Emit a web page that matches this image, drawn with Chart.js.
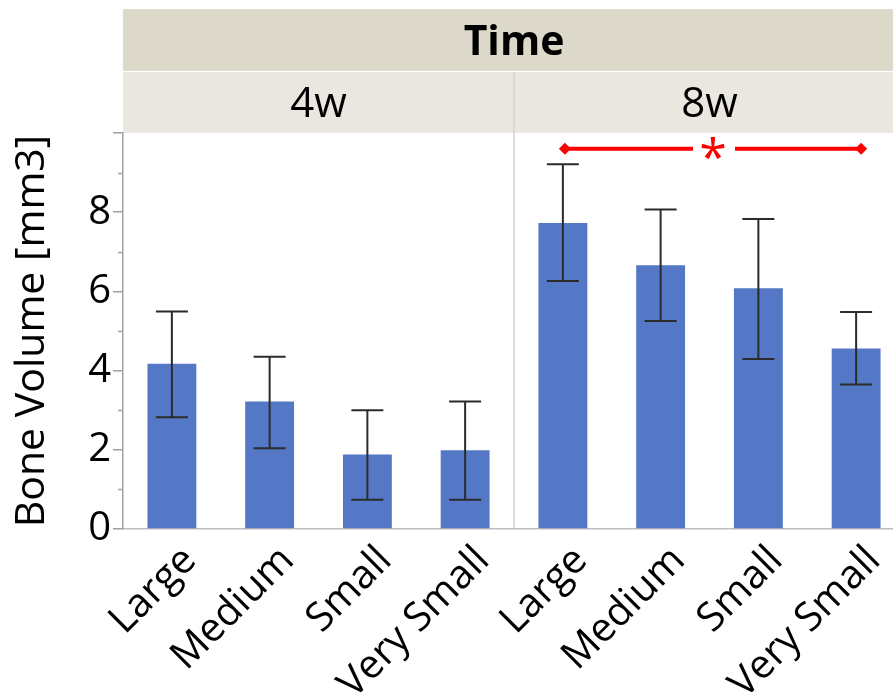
<!DOCTYPE html>
<html>
<head>
<meta charset="utf-8">
<script src="https://cdn.jsdelivr.net/npm/chart.js@4.4.1/dist/chart.umd.min.js"></script>
<style>
  html, body { margin: 0; padding: 0; background: #fff; overflow: hidden; }
  #wrap { width: 905px; height: 694px; }
</style>
</head>
<body>
<div id="wrap"><canvas id="boneChart" width="905" height="694"></canvas></div>
<script>
// bone volume by defect size, two time points
const sizes = ["Large", "Medium", "Small", "Very Small"];
const times = ["4w", "8w"];
const mean4w = [4.17, 3.22, 1.88, 1.99];
const mean8w = [7.73, 6.66, 6.08, 4.56];
const low4w = [2.82, 2.04, 0.74, 0.74];
const high4w = [5.49, 4.35, 3.0, 3.22];
const low8w = [6.26, 5.25, 4.29, 3.65];
const high8w = [9.21, 8.07, 7.83, 5.48];
const yLabelled = [0, 2, 4, 6, 8];
const sigLevel = 9.6;
const sigFrom = 4, sigTo = 7; // 8w Large vs 8w Very Small

const FONT = "'Open Sans', 'Noto Sans', sans-serif";
const lows = low4w.concat(low8w);
const highs = high4w.concat(high8w);

// grey header bands "Time" / 4w / 8w
const headerPlugin = {
  id: "header",
  beforeDraw(chart) {
    const { ctx, chartArea, scales } = chart;
    const left = chartArea.left, right = chartArea.right;
    const split = (scales.x.getPixelForValue(3) + scales.x.getPixelForValue(4)) / 2;
    ctx.save();
    ctx.fillStyle = "#dcd9cb";
    ctx.fillRect(left, 9, right - left, 62);
    ctx.fillStyle = "#e9e7df";
    ctx.fillRect(left, 72, right - left, chartArea.top - 72);
    ctx.strokeStyle = "#d6d4cb";
    ctx.lineWidth = 1.5;
    ctx.beginPath();
    ctx.moveTo(split, 72);
    ctx.lineTo(split, chartArea.bottom);
    ctx.stroke();

    ctx.fillStyle = "#000";
    ctx.textAlign = "center";
    ctx.textBaseline = "middle";
    ctx.font = "bold 41px " + FONT;
    ctx.fillText("Time", (left + right) / 2, 43);
    ctx.font = "42px " + FONT;
    ctx.fillText(times[0], (left + split) / 2, 105);
    ctx.fillText(times[1], (split + right) / 2, 105);
    ctx.restore();
  },
  afterDraw(chart) {
    // short minor ticks on the y axis
    const { ctx, chartArea, scales } = chart;
    ctx.save();
    ctx.strokeStyle = "#a0a0a0";
    ctx.lineWidth = 1.5;
    [1, 3, 5, 7, 9].forEach(v => {
      const y = Math.round(scales.y.getPixelForValue(v)) + 0.5;
      ctx.beginPath();
      ctx.moveTo(chartArea.left - 5, y);
      ctx.lineTo(chartArea.left, y);
      ctx.stroke();
    });
    ctx.restore();
  }
};

// error bars + significance bracket
const errorPlugin = {
  id: "errors",
  afterDatasetsDraw(chart) {
    const { ctx, scales } = chart;
    const bars = chart.getDatasetMeta(0).data;
    ctx.save();
    ctx.strokeStyle = "#2b2b2b";
    ctx.lineWidth = 2;
    bars.forEach((bar, i) => {
      const yl = scales.y.getPixelForValue(lows[i]);
      const yh = scales.y.getPixelForValue(highs[i]);
      ctx.beginPath();
      ctx.moveTo(bar.x, yl);
      ctx.lineTo(bar.x, yh);
      ctx.moveTo(bar.x - 16, yh);
      ctx.lineTo(bar.x + 16, yh);
      ctx.moveTo(bar.x - 16, yl);
      ctx.lineTo(bar.x + 16, yl);
      ctx.stroke();
    });

    const x1 = bars[sigFrom].x + 2, x2 = bars[sigTo].x + 5;
    const ys = scales.y.getPixelForValue(sigLevel);
    const mid = (x1 + x2) / 2;
    ctx.strokeStyle = "#ff0000";
    ctx.fillStyle = "#ff0000";
    ctx.lineWidth = 4;
    ctx.beginPath();
    ctx.moveTo(x1, ys);
    ctx.lineTo(mid - 20, ys);
    ctx.moveTo(mid + 22, ys);
    ctx.lineTo(x2, ys);
    ctx.stroke();
    [x1, x2].forEach(x => {
      ctx.beginPath();
      ctx.moveTo(x - 6, ys);
      ctx.lineTo(x, ys - 6);
      ctx.lineTo(x + 6, ys);
      ctx.lineTo(x, ys + 6);
      ctx.closePath();
      ctx.fill();
    });
    ctx.font = "50px " + FONT;
    ctx.textAlign = "center";
    ctx.textBaseline = "alphabetic";
    const m = ctx.measureText("*");
    ctx.fillText("*", mid, ys + (m.actualBoundingBoxAscent - m.actualBoundingBoxDescent) / 2);
    ctx.restore();
  }
};

const ctx = document.getElementById("boneChart").getContext("2d");
const boneChart = new Chart(ctx, {
  type: "bar",
  data: {
    labels: sizes.concat(sizes),
    datasets: [
      {
        label: "Bone Volume",
        data: mean4w.concat(mean8w),
        backgroundColor: "#5477c6",
        borderWidth: 0,
        categoryPercentage: 1,
        barPercentage: 0.5,
      },
    ],
  },
  options: {
    responsive: false,
    animation: false,
    layout: { padding: { top: 133, left: 0, right: 0, bottom: 0 } },
    plugins: {
      legend: { display: false },
      tooltip: { enabled: false },
    },
    scales: {
      x: {
        grid: { display: false },
        border: { color: "#bdbdbd", width: 1.5 },
        ticks: {
          color: "#000",
          font: { family: FONT, size: 40 },
          minRotation: 45,
          maxRotation: 45,
          autoSkip: false,
          labelOffset: 18,
          padding: 0,
        },
        afterFit(scale) { scale.height = 165; },
      },
      y: {
        min: 0,
        max: 10,
        grid: {
          drawOnChartArea: false,
          tickLength: 10,
          lineWidth: 1.5,
          color: c => (c.tick && yLabelled.concat(10).includes(c.tick.value) ? "#a0a0a0" : "transparent"),
        },
        border: { color: "#a0a0a0", width: 1.5 },
        ticks: {
          stepSize: 1,
          color: "#000",
          padding: 2,
          font: { family: FONT, size: 40 },
          callback: v => (yLabelled.includes(v) ? v : ""),
        },
        title: {
          display: true,
          text: "Bone Volume [mm3]",
          color: "#000",
          font: { family: FONT, size: 41 },
          padding: { top: 8, bottom: 0 },
        },
        afterFit(scale) { scale.width = 123; },
      },
    },
  },
  plugins: [headerPlugin, errorPlugin],
});
</script>
</body>
</html>
